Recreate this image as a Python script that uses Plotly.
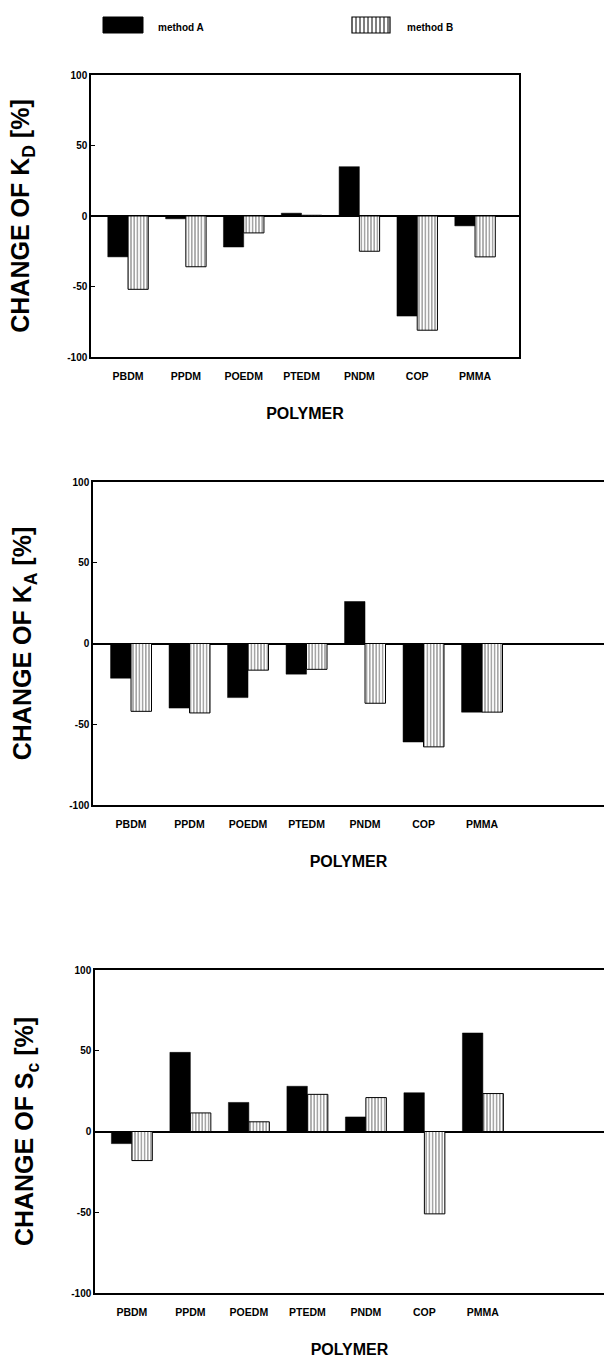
import plotly.graph_objects as go

# ---------------- data ----------------
polymers = ["PBDM", "PPDM", "POEDM", "PTEDM", "PNDM", "COP", "PMMA"]
series_names = ["method A", "method B"]

kd_method_a = [-29, -2, -22, 2, 35, -71, -7]
kd_method_b = [-52, -36, -12, 0.5, -25, -81, -29]

ka_method_a = [-21.5, -40, -33.5, -19, 26, -61, -42.5]
ka_method_b = [-42, -43, -16.5, -16, -37, -64, -42.5]

sc_method_a = [-7.5, 49, 18, 28, 9, 24, 61]
sc_method_b = [-18, 11.5, 6, 23, 21, -51, 23.5]

y_tickvals = [100, 50, 0, -50, -100]
y_ticktext = ["100", "50", "0", "-50", "-100"]
y_titles = ["CHANGE OF K<sub>D</sub> [%]", "CHANGE OF K<sub>A</sub> [%]", "CHANGE OF S<sub>c</sub> [%]"]
x_title = "POLYMER"

# ---------------- layout helpers ----------------
W, H = 604, 1360
FONT = "Liberation Sans, Arial, Helvetica, sans-serif"


def px_x(v):
    return v / W


def px_y(v):
    return 1 - v / H


panels = [
    dict(a=kd_method_a, b=kd_method_b, x0=91, x1=519, y0=75, y1=357, xr=[-0.64, 6.76], box=True),
    dict(a=ka_method_a, b=ka_method_b, x0=93, x1=604, y0=482, y1=805, xr=[-0.65, 8.085], box=False),
    dict(a=sc_method_a, b=sc_method_b, x0=95, x1=604, y0=970, y1=1293, xr=[-0.63, 8.07], box=False),
]

fig = go.Figure()
layout = dict(
    width=W, height=H,
    margin=dict(l=0, r=0, t=0, b=0),
    paper_bgcolor="white", plot_bgcolor="white",
    barmode="overlay",
    showlegend=False,
    font=dict(family=FONT, color="black"),
)

for i, p in enumerate(panels, start=1):
    xa = "x" if i == 1 else f"x{i}"
    ya = "y" if i == 1 else f"y{i}"
    fig.add_trace(go.Bar(
        x=polymers, y=p["a"], name=series_names[0],
        offset=-0.35, width=0.35,
        marker=dict(color="black", line=dict(color="black", width=0.5)),
        xaxis=xa, yaxis=ya,
    ))
    fig.add_trace(go.Bar(
        x=polymers, y=p["b"], name=series_names[1],
        offset=0.0, width=0.35,
        marker=dict(color="white",
                    line=dict(color="black", width=1),
                    pattern=dict(shape="|", fgcolor="black", bgcolor="white",
                                 size=3.2, solidity=0.35)),
        xaxis=xa, yaxis=ya,
    ))
    xkey = "xaxis" if i == 1 else f"xaxis{i}"
    ykey = "yaxis" if i == 1 else f"yaxis{i}"
    layout[xkey] = dict(
        domain=[px_x(p["x0"]), px_x(p["x1"])],
        anchor=ya, type="category", range=p["xr"],
        showline=True, linecolor="black", linewidth=1.5, mirror=True,
        ticks="", showgrid=False, zeroline=False,
        tickfont=dict(size=10.5, family=FONT, weight="bold"),
        ticklabelstandoff=9,
        title=dict(text=x_title, font=dict(size=16, family=FONT, weight="bold"), standoff=26),
        automargin=False,
    )
    layout[ykey] = dict(
        domain=[px_y(p["y1"]), px_y(p["y0"])],
        anchor=xa, range=[-100, 100],
        tickvals=y_tickvals, ticktext=y_ticktext,
        showline=True, linecolor="black", linewidth=1.5, mirror=p["box"],
        ticks="inside", ticklen=4, tickcolor="black", tickwidth=1,
        showgrid=False,
        zeroline=True, zerolinecolor="black", zerolinewidth=1.5,
        tickfont=dict(size=10, family=FONT, weight="bold"),
        title=dict(text=y_titles[i - 1], font=dict(size=25, family=FONT, weight="bold"), standoff=30),
        automargin=False,
    )

# ---------------- legend (drawn as decoration) ----------------
shapes = []
annotations = []
# method A swatch
shapes.append(dict(type="rect", xref="paper", yref="paper",
                   x0=px_x(103), x1=px_x(143), y0=px_y(33), y1=px_y(17),
                   fillcolor="black", line=dict(color="black", width=1)))
annotations.append(dict(xref="paper", yref="paper", x=px_x(156), y=px_y(27),
                        text=series_names[0], showarrow=False, xanchor="left", yanchor="middle",
                        font=dict(size=10, family=FONT, weight="bold")))
# method B swatch
sx0, sx1 = 352, 390
shapes.append(dict(type="rect", xref="paper", yref="paper",
                   x0=px_x(sx0), x1=px_x(sx1), y0=px_y(33), y1=px_y(17),
                   fillcolor="white", line=dict(color="black", width=1.2)))
xx = sx0 + 4
while xx < sx1 - 1:
    shapes.append(dict(type="line", xref="paper", yref="paper",
                       x0=px_x(xx), x1=px_x(xx), y0=px_y(33), y1=px_y(17),
                       line=dict(color="black", width=1)))
    xx += 4
annotations.append(dict(xref="paper", yref="paper", x=px_x(405), y=px_y(27),
                        text=series_names[1], showarrow=False, xanchor="left", yanchor="middle",
                        font=dict(size=10, family=FONT, weight="bold")))

layout["shapes"] = shapes
layout["annotations"] = annotations
fig.update_layout(**layout)

fig.write_html("out.html")
